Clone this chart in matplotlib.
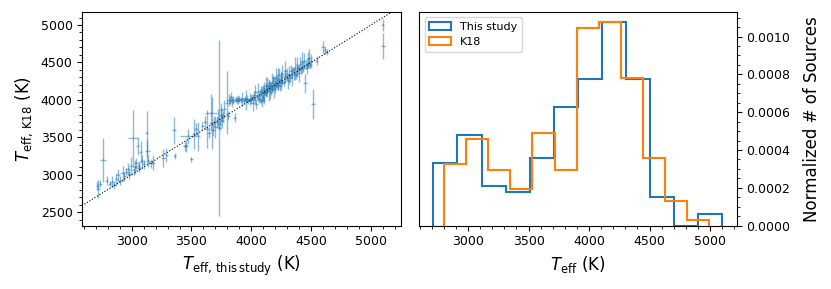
import numpy as np
import matplotlib
matplotlib.use("Agg")
import matplotlib.pyplot as plt
from matplotlib.ticker import MultipleLocator

# Teff from this study (K), grouped roughly by histogram bin
teff_this = [
    2714, 2722, 2735, 2760, 2790, 2815, 2835, 2850, 2870, 2885, 2900,
    2925, 2940, 2955, 2968, 2980, 2995, 3010, 3020, 3030, 3040, 3050, 3058, 3065, 3075, 3090, 3100,
    3125, 3131, 3140, 3160, 3175, 3260, 3290,
    3353, 3358, 3445, 3455, 3470, 3500,
    3525, 3540, 3555, 3590, 3615, 3630, 3645, 3660, 3668, 3680, 3690, 3700,
    3715, 3722, 3732, 3738, 3745, 3750, 3755, 3762, 3770, 3800, 3808, 3815, 3822, 3830, 3840,
    3850, 3860, 3870, 3880, 3890, 3900,
    3915, 3925, 3935, 3945, 3955, 3965, 3975, 3985, 3995, 4005, 4012, 4020, 4028, 4035, 4042,
    4050, 4058, 4065, 4072, 4080, 4085, 4090, 4095, 4100, 4103, 4104,
    4110, 4115, 4120, 4125, 4130, 4135, 4140, 4145, 4150, 4155, 4160, 4165, 4170, 4175, 4180,
    4185, 4190, 4195, 4200, 4205, 4210, 4215, 4220, 4225, 4230, 4235, 4240, 4245, 4250, 4255,
    4260, 4270, 4280, 4285, 4295, 4302,
    4310, 4318, 4325, 4332, 4340, 4348, 4355, 4362, 4370, 4378, 4385, 4392, 4400, 4408, 4415,
    4422, 4430, 4438, 4448, 4455, 4462, 4470, 4478, 4485, 4492, 4500,
    4517, 4545, 4600, 4612, 4629,
    5098, 5101,
]

# Teff from K18 (K), same order
teff_k18 = [
    2850, 2802, 2880, 3195, 2920, 2880, 2905, 2860, 2940, 2990, 2920,
    3020, 2975, 3040, 3080, 3010, 3120, 3485, 3060, 3100, 3150, 3380, 3120, 3090, 3300, 3180, 3140,
    3550, 3310, 3180, 3150, 3160, 3217, 3260,
    3590, 3250, 3380, 3385, 3510, 3205,
    3540, 3610, 3510, 3650, 3700, 3610, 3560, 3830, 3690, 3600, 3705, 3640,
    3700, 3760, 3620, 3680, 3800, 3860, 3720, 3780, 3880, 3960, 3790, 4000, 3990, 4040, 3970,
    4000, 3760, 4010, 3990, 4000, 4005,
    3995, 4010, 3990, 4005, 4000, 4015, 3985, 4010, 4000, 4030, 3960, 4060, 4000, 4110, 3940,
    4040, 4100, 4010, 4060, 3980, 4120, 4050, 4020, 4090, 3990, 4095,
    4150, 4090, 4180, 4120, 4100, 4200, 4160, 4130, 4220, 4110, 4190, 4150, 4240, 4140, 4200,
    4290, 4170, 4230, 4150, 4310, 4200, 4250, 4180, 4280, 4220, 4330, 4190, 4260, 4300, 4240,
    4350, 4230, 4320, 4380, 4290, 4340,
    4250, 4330, 4290, 4380, 4310, 4400, 4350, 4420, 4330, 4460, 4380, 4430, 4360, 4480, 4410,
    4500, 4440, 4520, 4220, 4470, 4420, 4540, 4490, 4560, 4470, 4520,
    3944, 4520, 4700, 4660, 4640,
    4994, 4720,
]

err_this = [
    15, 12, 18, 25, 15, 12, 20, 15, 12, 18, 15,
    20, 15, 12, 20, 15, 18, 40, 15, 12, 20, 15, 12, 18, 15, 20, 12,
    15, 20, 12, 15, 18, 15, 12,
    20, 15, 15, 20, 65, 12,
    20, 15, 18, 12, 15, 20, 15, 50, 18, 15, 12, 20,
    15, 12, 15, 18, 12, 15, 20, 12, 15, 20, 15, 25, 12, 15, 18,
    20, 15, 12, 25, 15, 20,
    15, 20, 12, 18, 15, 12, 20, 15, 12, 18, 15, 20, 12, 15, 18,
    12, 15, 20, 12, 15, 18, 12, 15, 20, 12, 15,
    15, 12, 18, 15, 12, 20, 15, 12, 18, 15, 12, 20, 15, 12, 18,
    15, 12, 20, 15, 12, 18, 15, 12, 20, 15, 12, 18, 15, 12, 20,
    15, 12, 18, 15, 12, 20,
    15, 12, 18, 15, 12, 20, 15, 12, 18, 15, 12, 20, 15, 12, 18,
    15, 12, 20, 15, 12, 18, 15, 12, 20, 15, 12,
    15, 12, 18, 15, 12,
    15, 15,
]

err_k18 = [
    60, 120, 50, 290, 60, 40, 70, 50, 80, 90, 60,
    100, 60, 50, 80, 70, 120, 380, 60, 90, 70, 120, 60, 50, 150, 80, 60,
    300, 150, 80, 60, 100, 120, 90,
    180, 40, 60, 80, 100, 30,
    200, 80, 200, 60, 90, 250, 70, 250, 350, 80, 60, 150,
    70, 120, 1175, 80, 90, 100, 100, 70, 120, 420, 60, 80, 50, 60, 70,
    50, 60, 40, 50, 60, 40,
    40, 90, 50, 40, 130, 50, 40, 80, 50, 40, 110, 60, 40, 90, 60,
    40, 120, 50, 90, 40, 70, 140, 40, 110, 50, 80,
    90, 40, 130, 70, 60, 110, 40, 150, 50, 100, 40, 90, 120, 50, 80,
    40, 140, 70, 60, 120, 40, 90, 50, 150, 40, 100, 70, 130, 60, 40,
    120, 50, 90, 140, 40, 80,
    100, 120, 50, 90, 130, 40, 80, 150, 50, 110, 70, 40, 120, 90, 60,
    140, 70, 110, 130, 60, 80, 100, 60, 120, 50, 90,
    195, 60, 80, 50, 40,
    80, 170,
]

fig = plt.figure(figsize=(8.31, 2.89), dpi=100)
ax1 = fig.add_axes([0.099, 0.219, 0.3835, 0.7405])
ax2 = fig.add_axes([0.5042, 0.219, 0.3823, 0.7405])

# left: comparison of the two temperature scales
ax1.errorbar(teff_this, teff_k18, xerr=err_this, yerr=err_k18, fmt=',',
             elinewidth=1, alpha=0.5, color='C0')
ax1.plot([2000, 6000], [2000, 6000], 'k:', lw=0.8)
ax1.set_xlim(2587, 5251)
ax1.set_ylim(2317, 5178)
ax1.xaxis.set_major_locator(MultipleLocator(500))
ax1.xaxis.set_minor_locator(MultipleLocator(100))
ax1.yaxis.set_major_locator(MultipleLocator(500))
ax1.yaxis.set_minor_locator(MultipleLocator(100))
ax1.tick_params(labelsize=9)
ax1.set_xlabel(r'$T_{\rm eff,\,this\,study}$ (K)', fontsize=12)
ax1.set_ylabel(r'$T_{\rm eff,\,K18}$ (K)', fontsize=12)

# right: normalized histograms
ax2.hist(teff_this, bins=12, density=True, histtype='step', lw=1.5, label='This study')
ax2.hist(teff_k18, bins=12, density=True, histtype='step', lw=1.5, label='K18')
ax2.yaxis.tick_right()
ax2.yaxis.set_label_position('right')
ax2.xaxis.set_major_locator(MultipleLocator(500))
ax2.xaxis.set_minor_locator(MultipleLocator(100))
ax2.yaxis.set_major_locator(MultipleLocator(0.0002))
ax2.yaxis.set_minor_locator(MultipleLocator(0.00005))
ax2.yaxis.set_major_formatter(plt.FormatStrFormatter('%.4f'))
ax2.tick_params(labelsize=9)
ax2.set_xlabel(r'$T_{\rm eff}$ (K)', fontsize=12)
ax2.set_ylabel('Normalized # of Sources', fontsize=12, labelpad=9)
ax2.legend(loc='upper left', fontsize=8)

fig.savefig('out.png', dpi=100)
